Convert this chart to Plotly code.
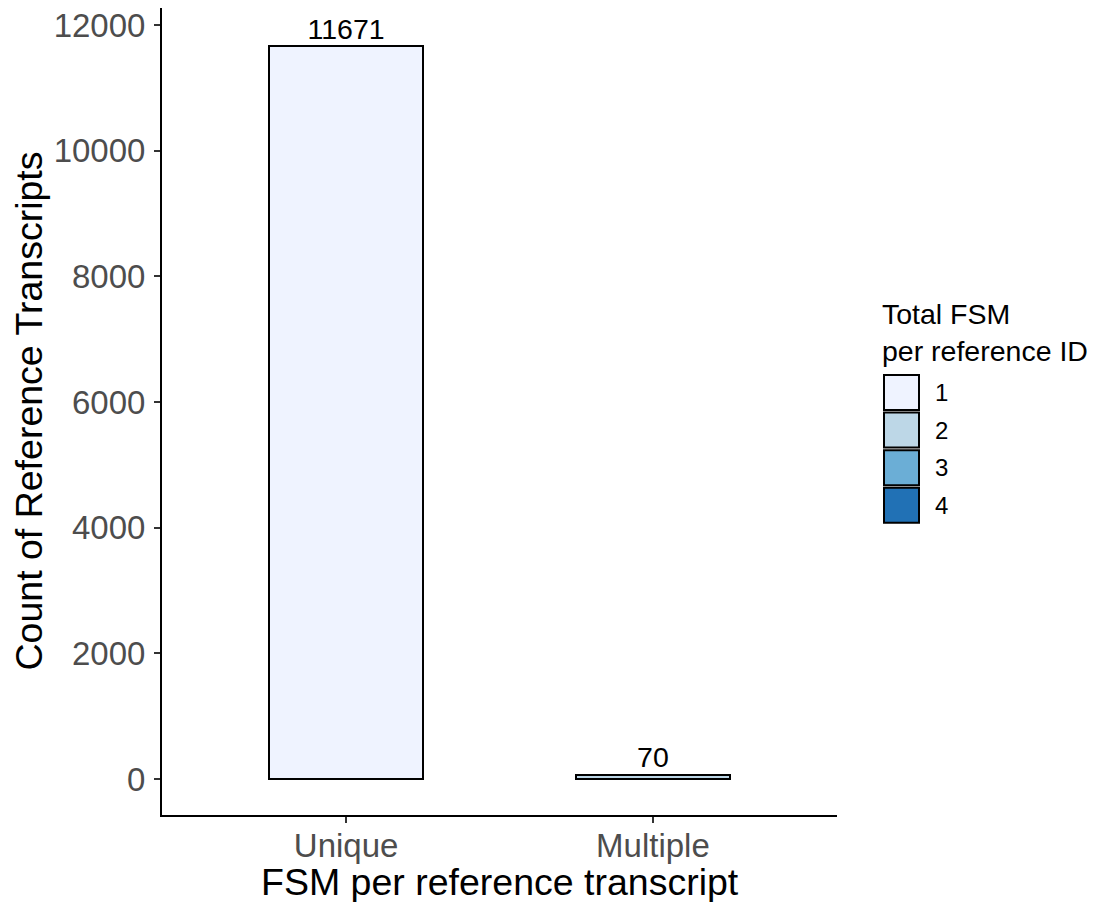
import plotly.graph_objects as go

categories = ["Unique", "Multiple"]
levels = ["1", "2", "3", "4"]
level_colors = ["#EFF3FF", "#BDD7E7", "#6BAED6", "#2171B5"]
# counts per level for each category (Unique, Multiple)
counts = {
    "1": [11671, 0],
    "2": [0, 60],
    "3": [0, 8],
    "4": [0, 2],
}
totals = [11671, 70]
y_ticks = [0, 2000, 4000, 6000, 8000, 10000, 12000]

FONT = "Liberation Sans, Arial, sans-serif"
OFF = 8  # page body margin in the browser
W, H = 1095 - OFF, 902 - OFF
# plot area in screenshot pixels
SL, SR, ST, SB = 162, 837, 8, 815
PL, PR, PT, PB = SL - OFF, SR - OFF, ST - OFF, SB - OFF


def px(x):  # screenshot x -> paper
    return (x - SL) / (SR - SL)


def py(y):  # screenshot y -> paper
    return (SB - y) / (SB - ST)


fig = go.Figure()
for lvl, col in zip(levels, level_colors):
    fig.add_trace(go.Bar(
        x=categories, y=counts[lvl], name=lvl,
        marker=dict(color=col, line=dict(color="black", width=2)),
        width=0.5, showlegend=False,
    ))

fig.add_trace(go.Scatter(
    x=categories, y=totals, mode="text",
    text=[str(t) for t in totals], textposition="top center",
    textfont=dict(family=FONT, size=28.5, color="black"),
    showlegend=False, cliponaxis=False,
))

# manual ggplot-style legend
leg_x0, leg_top, key_w, key_h, key_gap = 884, 375, 35, 35, 2.6
for i, (lvl, col) in enumerate(zip(levels, level_colors)):
    y0 = leg_top + i * (key_h + key_gap)
    fig.add_shape(type="rect", xref="paper", yref="paper",
                  x0=px(leg_x0), x1=px(leg_x0 + key_w),
                  y0=py(y0), y1=py(y0 + key_h),
                  fillcolor=col, line=dict(color="black", width=2))
    fig.add_annotation(xref="paper", yref="paper",
                       x=px(leg_x0 + key_w + 14), y=py(y0 + key_h / 2),
                       text=lvl, showarrow=False, xanchor="left", yanchor="middle",
                       font=dict(family=FONT, size=24, color="black"))
fig.add_annotation(xref="paper", yref="paper",
                   x=px(leg_x0 - 4), y=py(296),
                   text="Total FSM<br>per reference ID", showarrow=False,
                   xanchor="left", yanchor="top", align="left",
                   font=dict(family=FONT, size=28.5, color="black"))

# axis titles
fig.add_annotation(xref="paper", yref="paper", x=0.5, y=py(882),
                   text="FSM per reference transcript", showarrow=False,
                   xanchor="center", yanchor="middle",
                   font=dict(family=FONT, size=37.5, color="black"))
fig.add_annotation(xref="paper", yref="paper", x=px(28), y=0.5,
                   text="Count of Reference Transcripts", showarrow=False,
                   xanchor="center", yanchor="middle", textangle=-90,
                   font=dict(family=FONT, size=37.5, color="black"))

fig.update_layout(
    width=W, height=H,
    margin=dict(l=PL, r=W - PR, t=PT, b=H - PB, autoexpand=False),
    paper_bgcolor="white", plot_bgcolor="white",
    barmode="stack", bargap=0.5,
    font=dict(family=FONT),
    xaxis=dict(
        range=[-0.6, 1.6], showline=True, linecolor="black", linewidth=2,
        ticks="outside", ticklen=6, tickwidth=2, tickcolor="#333333",
        tickfont=dict(family=FONT, size=33, color="#4D4D4D"),
        ticklabelstandoff=-6, ticklabeloverflow="allow",
        showgrid=False, zeroline=False, automargin=False,
    ),
    yaxis=dict(
        range=[-573, 12271], showline=True, linecolor="black", linewidth=2,
        tickvals=y_ticks, ticktext=[str(v) for v in y_ticks],
        ticks="outside", ticklen=6, tickwidth=2, tickcolor="#333333",
        tickfont=dict(family=FONT, size=33, color="#4D4D4D"),
        ticklabelstandoff=2, ticklabeloverflow="allow",
        showgrid=False, zeroline=False, automargin=False,
    ),
)

fig.write_html("out.html")
